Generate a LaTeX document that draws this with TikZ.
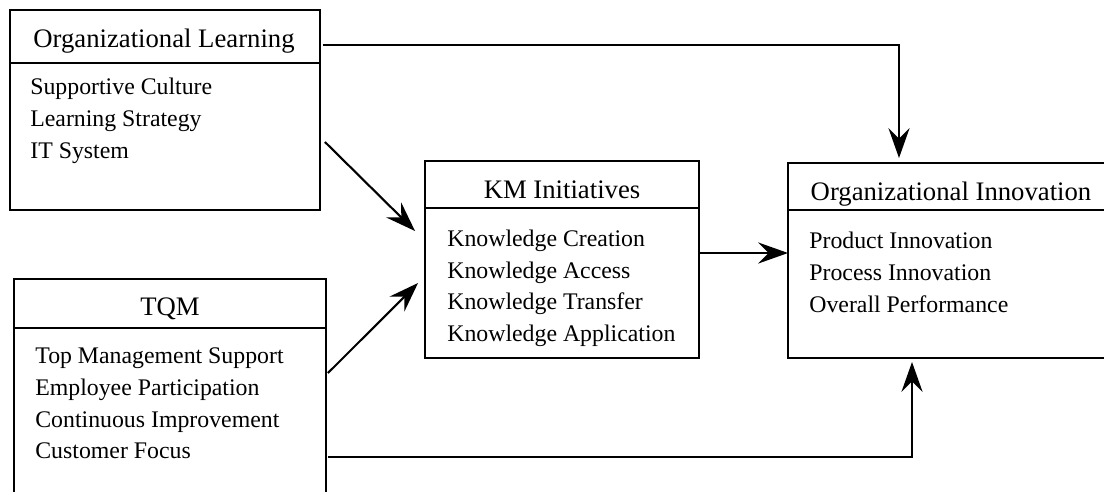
\documentclass[tikz,border=0pt]{standalone}
\usepackage{fontspec}
\setmainfont{Liberation Serif}
\usetikzlibrary{arrows.meta}

\tikzset{
  box/.style={rectangle, draw, line width=1.5pt, inner sep=0pt, outer sep=0pt},
  title/.style={anchor=base, inner sep=0pt, font=\fontsize{15.2}{18}\selectfont},
  item/.style={anchor=base west, inner sep=0pt, font=\fontsize{13.55}{18}\selectfont},
  rule/.style={line width=1.1pt},
  arr/.style={-{Stealth[length=17pt, width=12pt, inset=6pt]}, line width=1.2pt},
}

\begin{document}
\begin{tikzpicture}[x=0.02cm, y=-0.02cm]
    \useasboundingbox (0,0) rectangle (1104,491);

    % Boxes
    \node (ol) [box, minimum width=6.2cm, minimum height=4cm] at (165,110) {};
    \node (tqm) [box, minimum width=6.24cm, minimum height=4.82cm] at (170,399.5) {};
    \node (km) [box, minimum width=5.48cm, minimum height=3.94cm] at (562,259.5) {};
    \node (oi) [box, minimum width=6.4cm, minimum height=3.9cm] at (948,260.5) {};

    % Header rules
    \draw[rule] ([shift={(0,53)}]ol.north west) -- ([shift={(0,53)}]ol.north east);
    \draw[rule] ([shift={(0,49)}]tqm.north west) -- ([shift={(0,49)}]tqm.north east);
    \draw[rule] ([shift={(0,47)}]km.north west) -- ([shift={(0,47)}]km.north east);
    \draw[rule] ([shift={(0,47)}]oi.north west) -- ([shift={(0,47)}]oi.north east);

    % Titles
    \node (olt) [title] at (164,47) {Organizational Learning};
    \node (tqmt) [title] at (170,315) {TQM};
    \node (kmt) [title] at (562,198) {KM Initiatives};
    \node (oit) [title] at (951,200) {Organizational Innovation};

    % Items
    \node (ol1) [item] at (30,94) {Supportive Culture};
    \node (ol2) [item] at (30,126) {Learning Strategy};
    \node (ol3) [item] at (30,158) {IT System};

    \node (tqm1) [item] at (35,363) {Top Management Support};
    \node (tqm2) [item] at (35,395) {Employee Participation};
    \node (tqm3) [item] at (35,427) {Continuous Improvement};
    \node (tqm4) [item] at (35,458) {Customer Focus};

    \node (km1) [item] at (447,246.5) {Knowledge Creation};
    \node (km2) [item] at (447,278) {Knowledge Access};
    \node (km3) [item] at (447,309.5) {Knowledge Transfer};
    \node (km4) [item] at (447,341) {Knowledge Application};

    \node (oi1) [item] at (809,248) {Product Innovation};
    \node (oi2) [item] at (809,280) {Process Innovation};
    \node (oi3) [item] at (809,312) {Overall Performance};

    % Arrows
    \draw[arr] ([shift={(3,35)}]ol.north east) -| ([shift={(-49,-5)}]oi.north);
    \draw[arr] ([shift={(5,32)}]ol.east) -- ([shift={(-10,-28.5)}]km.west);
    \draw[arr] ([shift={(2,-26.5)}]tqm.east) -- ([shift={(-7,23.5)}]km.west);
    \draw[arr] ([shift={(0,-6.5)}]km.east) -- ([shift={(0,-7.5)}]oi.west);
    \draw[arr] ([shift={(2,57.5)}]tqm.east) -| ([shift={(-36,4)}]oi.south);
\end{tikzpicture}
\end{document}
